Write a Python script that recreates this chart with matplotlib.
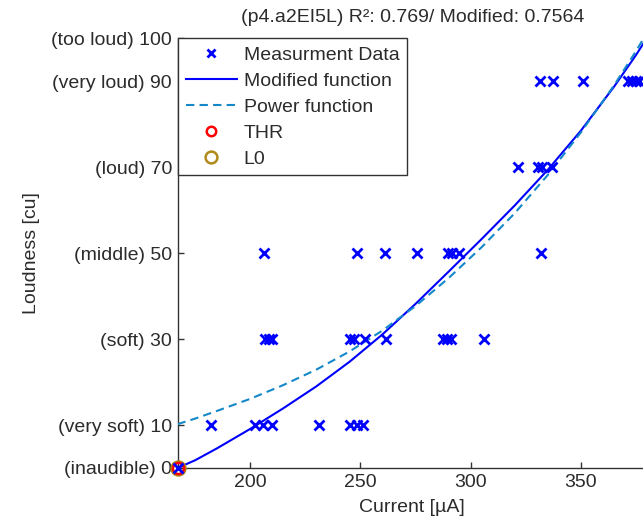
import matplotlib
matplotlib.use('Agg')
import matplotlib.pyplot as plt

plt.rcParams['font.family'] = ['Liberation Sans', 'DejaVu Sans']

# measured points: current [uA] and loudness category [cu]
meas_current = [167.0,
                182.2, 202.3, 205.9, 210.0, 231.3, 245.3, 248.5, 251.2,
                206.8, 208.6, 210.0, 245.3, 247.1, 252.1, 261.5, 287.5, 289.3, 291.1, 306.1,
                206.3, 248.4, 261.2, 275.8, 289.8, 291.6, 294.7, 331.9,
                321.6, 330.6, 332.4, 336.8,
                331.5, 337.4, 351.0, 371.4, 373.2, 375.0, 376.3]
meas_loudness = [0,
                 10, 10, 10, 10, 10, 10, 10, 10,
                 30, 30, 30, 30, 30, 30, 30, 30, 30, 30, 30,
                 50, 50, 50, 50, 50, 50, 50, 50,
                 70, 70, 70, 70,
                 90, 90, 90, 90, 90, 90, 90]

# fitted curves
curve_x = [167, 175, 185, 200, 215, 230, 245, 260, 275, 290, 305, 320, 335, 350, 365, 375, 380]
modified_y = [0.0, 1.8, 4.6, 9.1, 13.9, 19.0, 24.7, 31.1, 38.2, 45.7, 53.3, 61.1, 69.4, 78.5, 88.7, 96.1, 100.1]
power_y = [10.2, 11.5, 13.3, 16.1, 19.3, 22.9, 27.1, 32.0, 37.7, 44.2, 51.4, 59.3, 68.2, 78.1, 89.0, 97.0, 101.3]

thr = (167.0, 0.0)
l0 = (167.0, 0.0)

ytick_vals = [0, 10, 30, 50, 70, 90, 100]
ytick_labels = ['(inaudible) 0', '(very soft) 10', '(soft) 30', '(middle) 50',
                '(loud) 70', '(very loud) 90', '(too loud) 100']
xtick_vals = [200, 250, 300, 350]

title = '(p4.a2EI5L) R\u00b2: 0.769/ Modified: 0.7564'

fig = plt.figure(figsize=(6.43, 5.22), dpi=100)
ax = fig.add_axes([177.5 / 643, 54 / 522, 469.5 / 643, 429.7 / 522])

txt = '#2b2b2b'
fs = 14

l_mod, = ax.plot(curve_x, modified_y, '-', color='#0000ff', lw=1.5, zorder=3)
l_pow, = ax.plot(curve_x, power_y, '--', color='#1488c8', lw=1.5, dashes=(4, 2.5), zorder=3)
h_l0, = ax.plot([l0[0]], [l0[1]], 'o', mfc='none', mec='#b08a1a', mew=1.8, ms=10,
                clip_on=False, zorder=4)
h_thr, = ax.plot([thr[0]], [thr[1]], 'o', mfc='none', mec='#ff0000', mew=1.8, ms=8,
                 clip_on=False, zorder=5)
h_meas, = ax.plot(meas_current, meas_loudness, 'x', color='#0000ff', ms=7, mew=2,
                  ls='none', clip_on=False, zorder=6)

ax.set_xlim(167, 380)
ax.set_ylim(0, 100)
ax.set_xticks(xtick_vals)
ax.set_yticks(ytick_vals)
ax.set_yticklabels(ytick_labels)
ax.tick_params(direction='in', length=4, width=1, colors='#333333', labelcolor=txt,
               labelsize=fs, pad=4)

for s in ('top', 'right'):
    ax.spines[s].set_visible(False)
for s in ('left', 'bottom'):
    ax.spines[s].set_color('#333333')
    ax.spines[s].set_linewidth(1)

ax.set_xlabel('Current [\u00b5A]', fontsize=fs, color=txt, labelpad=6)
ax.set_ylabel('Loudness [cu]', fontsize=fs, color=txt, labelpad=8)
ax.set_title(title, fontsize=fs, color=txt, pad=12)

leg = ax.legend([h_meas, l_mod, l_pow, h_thr, h_l0],
                ['Measurment Data', 'Modified function', 'Power function', 'THR', 'L0'],
                loc='upper left', bbox_to_anchor=(0.002, 1.0), borderaxespad=0,
                fontsize=fs, frameon=True, fancybox=False, framealpha=1,
                handlelength=2.6, handletextpad=0.35, labelspacing=0.43,
                borderpad=0.4, markerscale=0.85)
leg.get_frame().set_edgecolor('#333333')
leg.get_frame().set_linewidth(1)
for t in leg.get_texts():
    t.set_color(txt)

fig.savefig('out.png', dpi=100)
